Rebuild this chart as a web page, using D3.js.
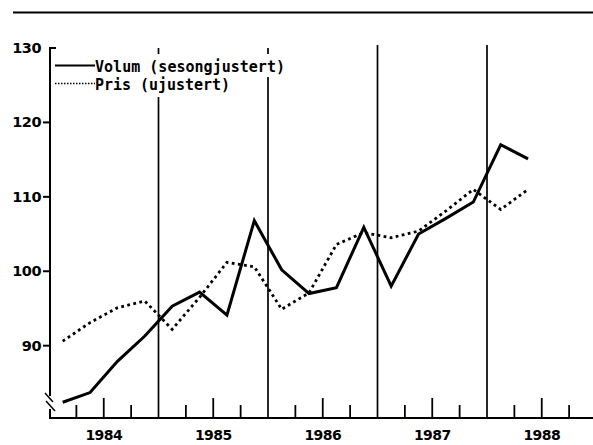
<!DOCTYPE html>
<html><head><meta charset="utf-8">
<script src="https://cdn.jsdelivr.net/npm/d3@7"></script>
<style>body{margin:0;background:#fff}svg{display:block}</style>
</head><body>
<svg id="c" width="593" height="445"></svg>
<script>
const quarters = ["1984K1","1984K2","1984K3","1984K4","1985K1","1985K2","1985K3","1985K4","1986K1","1986K2","1986K3","1986K4","1987K1","1987K2","1987K3","1987K4","1988K1","1988K2"];
const volum = [82.4,83.7,87.9,91.3,95.3,97.2,94.1,106.8,100.2,97.0,97.8,105.9,98.0,105.0,107.1,109.3,117.0,115.1];
const pris  = [90.6,93.1,95.1,96.0,92.2,96.5,101.2,100.6,94.9,97.1,103.6,105.2,104.5,105.4,108.1,111.0,108.3,111.0];
const years = ["1984","1985","1986","1987","1988"];
const yTicks = [90,100,110,120,130];
const seriesNames = ["Volum (sesongjustert)","Pris (ujustert)"];

const svg = d3.select("#c");
const x = d3.scaleLinear().domain([0,20]).range([49,596.5]);
const y = d3.scaleLinear().domain([80,130]).range([420.1,48]);
const axisY = 418, axisX = 50;
const font = "'DejaVu Sans', sans-serif";

// top rule
svg.append("line").attr("x1",13).attr("x2",593).attr("y1",12.5).attr("y2",12.5).attr("stroke","#000").attr("stroke-width",2);

// year boundary vertical lines
[4,8,12,16].forEach(q=>{
  svg.append("line").attr("x1",x(q)).attr("x2",x(q)).attr("y1",q<10?48:45).attr("y2",axisY).attr("stroke","#000").attr("stroke-width",1.7);
});

// quarter ticks
d3.range(1,20).filter(q=>q%4!==0).forEach(q=>{
  const tall = q%4===2;
  svg.append("line").attr("x1",x(q)).attr("x2",x(q)).attr("y1",axisY).attr("y2",axisY-(tall?20:13)).attr("stroke","#000").attr("stroke-width",1.8);
});

// x axis line
svg.append("line").attr("x1",axisX-1).attr("x2",593).attr("y1",axisY).attr("y2",axisY).attr("stroke","#000").attr("stroke-width",2);

// x labels
years.forEach((yr,i)=>{
  svg.append("text").attr("x",x(i*4+2)).attr("y",440).attr("text-anchor","middle")
    .attr("font-family",font).attr("font-weight","bold").attr("font-size",14).attr("letter-spacing",-0.6).text(yr);
});

// y axis line with break
svg.append("line").attr("x1",axisX).attr("x2",axisX).attr("y1",47).attr("y2",396).attr("stroke","#000").attr("stroke-width",2);
svg.append("line").attr("x1",axisX).attr("x2",axisX).attr("y1",409).attr("y2",axisY).attr("stroke","#000").attr("stroke-width",2);
svg.append("line").attr("x1",45).attr("x2",53).attr("y1",393).attr("y2",402).attr("stroke","#000").attr("stroke-width",1.5);
svg.append("line").attr("x1",46).attr("x2",55).attr("y1",401).attr("y2",411).attr("stroke","#000").attr("stroke-width",1.5);

// y ticks and labels
yTicks.forEach(v=>{
  const top = v===130;
  svg.append("line").attr("x1",top?axisX:43).attr("x2",top?axisX+6:axisX).attr("y1",y(v)).attr("y2",y(v)).attr("stroke","#000").attr("stroke-width",2);
  svg.append("text").attr("x",41).attr("y",y(v)+5).attr("text-anchor","end")
    .attr("font-family",font).attr("font-weight","bold").attr("font-size",14.5).attr("letter-spacing",-0.5).text(v);
});

// legend background boxes (interrupt vertical lines)
svg.append("rect").attr("x",95).attr("y",54).attr("width",192).attr("height",23).attr("fill","#fff");
svg.append("rect").attr("x",95).attr("y",75).attr("width",137).attr("height",22).attr("fill","#fff");

// lines
const line = d3.line().x((d,i)=>x(i+0.5)).y(d=>y(d));
svg.append("path").datum(pris).attr("d",line).attr("fill","none").attr("stroke","#000")
  .attr("stroke-width",2.8).attr("stroke-dasharray","2.8,3.4");
svg.append("path").datum(volum).attr("d",line).attr("fill","none").attr("stroke","#000")
  .attr("stroke-width",3).attr("stroke-linejoin","miter");

// legend
svg.append("line").attr("x1",55).attr("x2",95).attr("y1",65.5).attr("y2",65.5).attr("stroke","#000").attr("stroke-width",2);
svg.append("line").attr("x1",55).attr("x2",95).attr("y1",83.5).attr("y2",83.5).attr("stroke","#000").attr("stroke-width",1.5).attr("stroke-dasharray","1.5,1.5");
const mono = "'DejaVu Sans Mono', monospace";
svg.append("text").attr("x",95).attr("y",72).attr("font-family",mono).attr("font-weight","bold").attr("font-size",15)
  .attr("textLength",190).attr("lengthAdjust","spacing").text(seriesNames[0]);
svg.append("text").attr("x",95).attr("y",90).attr("font-family",mono).attr("font-weight","bold").attr("font-size",15)
  .attr("textLength",135).attr("lengthAdjust","spacing").text(seriesNames[1]);
</script>
</body></html>
